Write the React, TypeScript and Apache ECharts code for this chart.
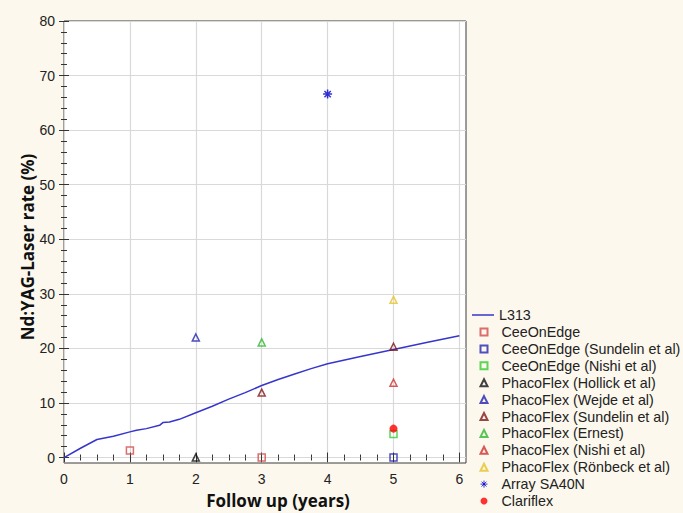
import React, { useEffect, useRef } from "react";
import * as echarts from "echarts";

// Axis ticks / labels
const xTicks = [0, 1, 2, 3, 4, 5, 6];
const yTicks = [0, 10, 20, 30, 40, 50, 60, 70, 80];
const xMinorTicks = Array.from({ length: 25 }, (_, i) => i * 0.25);
const yMinorTicks = Array.from({ length: 41 }, (_, i) => i * 2);

// L313 curve (follow-up years, rate %)
const l313 = [
  [0, 0], [0.25, 1.7], [0.5, 3.3], [0.75, 3.9], [1.0, 4.7], [1.1, 5.0],
  [1.25, 5.3], [1.45, 5.9], [1.5, 6.4], [1.6, 6.5], [1.75, 7.0], [2.0, 8.2],
  [2.25, 9.4], [2.5, 10.7], [2.75, 11.9], [3.0, 13.2], [3.25, 14.3], [3.5, 15.3],
  [3.75, 16.3], [4.0, 17.2], [4.5, 18.5], [5.0, 19.8], [5.5, 21.1], [6.0, 22.3],
];

// Study points
const ceeOnEdge = [[1, 1.3], [3, 0]];
const ceeOnEdgeSundelin = [[5, 0]];
const ceeOnEdgeNishi = [[5, 4.3]];
const phacoHollick = [[2, 0]];
const phacoWejde = [[2, 22.0]];
const phacoSundelin = [[3, 11.9], [5, 20.3]];
const phacoErnest = [[3, 21.1]];
const phacoNishi = [[5, 13.7]];
const phacoRonbeck = [[5, 28.9]];
const arraySA40N = [[4, 66.6]];
const clariflex = [[5, 5.3]];

const lineLegendNames = ["L313"];
const pointLegendNames = [
  "CeeOnEdge",
  "CeeOnEdge (Sundelin et al)",
  "CeeOnEdge (Nishi et al)",
  "PhacoFlex (Hollick et al)",
  "PhacoFlex (Wejde et al)",
  "PhacoFlex (Sundelin et al)",
  "PhacoFlex (Ernest)",
  "PhacoFlex (Nishi et al)",
  "PhacoFlex (Rönbeck et al)",
  "Array SA40N",
  "Clariflex",
];

const ASTERISK = "path://M5,0L5,10M0,5L10,5M1.5,1.5L8.5,8.5M8.5,1.5L1.5,8.5";
const LINE_ICON = "path://M0,0L22,0L22,1.5L0,1.5Z";

function hollow(name: string, data: number[][], symbol: string, color: string, size = 7) {
  return {
    type: "scatter",
    name,
    data,
    symbol,
    symbolSize: size,
    itemStyle: { color: "rgba(255,255,255,0)", borderColor: color, borderWidth: 1.5 },
    z: 5,
  };
}

export default function App() {
  const ref = useRef<HTMLDivElement>(null);
  useEffect(() => {
    if (!ref.current) return;
    const chart = echarts.init(ref.current, null, { renderer: "svg" });
    const labelFont = { fontFamily: "Liberation Sans", fontSize: 14, color: "#222" };
    const legendText = { fontFamily: "Liberation Sans", fontSize: 14.3, color: "#222", lineHeight: 16 };
    const tickColor = "#333";
    const baseX = { type: "value", min: 0, max: 6.1, gridIndex: 0, axisLine: { show: false } };
    const baseY = { type: "value", min: -1, max: 80, gridIndex: 0, axisLine: { show: false } };
    const noLabel = { show: false };
    const option: any = {
      animation: false,
      backgroundColor: "#fcf8ed",
      grid: {
        left: 64, top: 21, right: 217, bottom: 50,
        show: true, backgroundColor: "#ffffff", borderColor: "#3a3a3a", borderWidth: 1,
      },
      xAxis: [
        {
          ...baseX, position: "bottom",
          axisLabel: { ...labelFont, margin: 9, customValues: xTicks },
          axisTick: { inside: true, length: 5, customValues: xTicks, lineStyle: { color: tickColor } },
          splitLine: { show: true, lineStyle: { color: "#d9d9d9", width: 1.2 } },
        },
        {
          ...baseX, position: "bottom", axisLabel: noLabel, splitLine: { show: false },
          axisTick: { inside: true, length: 3, customValues: xMinorTicks, lineStyle: { color: tickColor } },
        },
        {
          ...baseX, position: "top", axisLabel: noLabel, splitLine: { show: false },
          axisTick: { inside: true, length: 5, customValues: xTicks, lineStyle: { color: tickColor } },
        },
        {
          ...baseX, position: "top", axisLabel: noLabel, splitLine: { show: false },
          axisTick: { inside: true, length: 3, customValues: xMinorTicks, lineStyle: { color: tickColor } },
        },
      ],
      yAxis: [
        {
          ...baseY, position: "left",
          axisLabel: { ...labelFont, margin: 9, customValues: yTicks },
          axisTick: { inside: true, length: 5, customValues: yTicks, lineStyle: { color: tickColor } },
          splitLine: { show: true, lineStyle: { color: "#d9d9d9", width: 1.2 } },
        },
        {
          ...baseY, position: "left", axisLabel: noLabel, splitLine: { show: false },
          axisTick: { inside: true, length: 3, customValues: yMinorTicks, lineStyle: { color: tickColor } },
        },
        {
          ...baseY, position: "right", axisLabel: noLabel, splitLine: { show: false },
          axisTick: { inside: true, length: 5, customValues: yTicks, lineStyle: { color: tickColor } },
        },
        {
          ...baseY, position: "right", axisLabel: noLabel, splitLine: { show: false },
          axisTick: { inside: true, length: 3, customValues: yMinorTicks, lineStyle: { color: tickColor } },
        },
      ],
      legend: [
        {
          orient: "vertical",
          left: 472,
          top: 307,
          padding: 0,
          itemWidth: 22,
          itemHeight: 7,
          textStyle: legendText,
          data: lineLegendNames.map((n) => ({ name: n, icon: LINE_ICON })),
        },
        {
          orient: "vertical",
          left: 479.5,
          top: 324,
          padding: 0,
          itemWidth: 7,
          itemHeight: 7,
          itemGap: 0.9,
          textStyle: { ...legendText, padding: [0, 0, 0, 9] },
          data: pointLegendNames.map((n) =>
            n === "Array SA40N" ? { name: n, itemStyle: { borderWidth: 1 } } : n
          ),
        },
      ],
      graphic: [
        {
          type: "text",
          x: 27,
          y: 247,
          rotation: Math.PI / 2,
          style: {
            text: "Nd:YAG-Laser rate (%)",
            fontFamily: "Open Sans",
            fontWeight: "bold",
            fontSize: 17,
            fill: "#111",
            textAlign: "center",
            textVerticalAlign: "middle",
          },
        },
        {
          type: "text",
          x: 278,
          y: 500,
          style: {
            text: "Follow up (years)",
            fontFamily: "Open Sans",
            fontWeight: "bold",
            fontSize: 17,
            fill: "#111",
            textAlign: "center",
            textVerticalAlign: "middle",
          },
        },
      ],
      series: [
        {
          type: "line",
          name: "L313",
          data: l313,
          symbol: "none",
          lineStyle: { color: "#3636cc", width: 1.5 },
          itemStyle: { color: "#3636cc" },
          z: 3,
        },
        hollow("CeeOnEdge", ceeOnEdge, "rect", "#d24a4a"),
        hollow("CeeOnEdge (Sundelin et al)", ceeOnEdgeSundelin, "rect", "#2424b0"),
        hollow("CeeOnEdge (Nishi et al)", ceeOnEdgeNishi, "rect", "#33cc33"),
        hollow("PhacoFlex (Hollick et al)", phacoHollick, "triangle", "#111111"),
        hollow("PhacoFlex (Wejde et al)", phacoWejde, "triangle", "#2020b0"),
        hollow("PhacoFlex (Sundelin et al)", phacoSundelin, "triangle", "#801818"),
        hollow("PhacoFlex (Ernest)", phacoErnest, "triangle", "#2db82d"),
        hollow("PhacoFlex (Nishi et al)", phacoNishi, "triangle", "#d03030"),
        hollow("PhacoFlex (Rönbeck et al)", phacoRonbeck, "triangle", "#e6c229"),
        {
          type: "scatter",
          name: "Array SA40N",
          data: arraySA40N,
          symbol: ASTERISK,
          symbolSize: 9,
          itemStyle: { color: "#0000cc", borderColor: "#0000cc", borderWidth: 1.5 },
          z: 5,
        },
        {
          type: "scatter",
          name: "Clariflex",
          data: clariflex,
          symbol: "circle",
          symbolSize: 8,
          itemStyle: { color: "#ff0000" },
          z: 6,
        },
      ],
    };
    chart.setOption(option);
    return () => chart.dispose();
  }, []);
  return (
    <div
      ref={ref}
      style={{ position: "fixed", left: 0, top: 0, width: 683, height: 513 }}
    />
  );
}
